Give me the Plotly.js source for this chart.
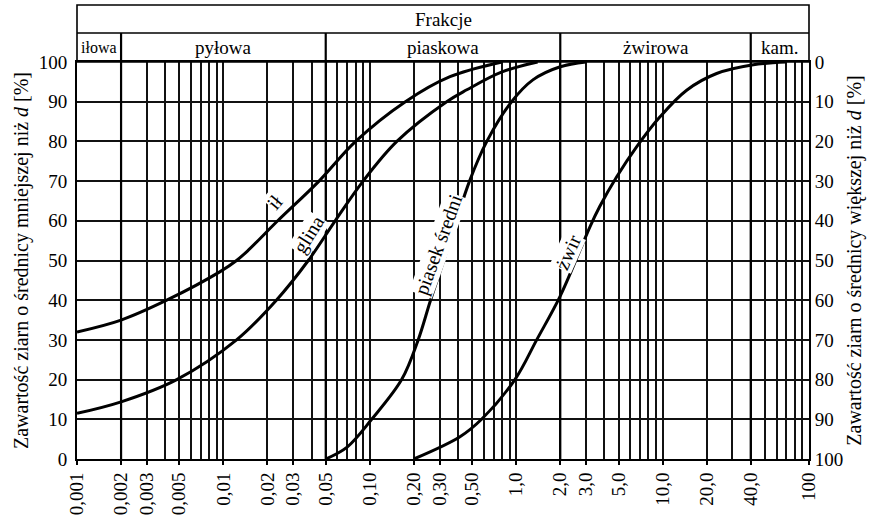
<!DOCTYPE html>
<html><head><meta charset="utf-8">
<script src="https://cdn.plot.ly/plotly-3.0.1.min.js"></script>
<style>body{margin:0;background:#fff}#chart{width:876px;height:518px}</style>
</head><body><div id="chart"></div>
<script>
// Grain size distribution curves (d in mm, P = % finer)
const ilD = [0.001,0.002,0.0041,0.0095,0.0123,0.0148,0.0235,0.045,0.08,0.175,0.353,0.8];
const ilP = [32,35,40,47.2,50,52.6,60,70,80,90,96.3,100];
const glinaD = [0.001,0.002,0.0048,0.0123,0.023,0.038,0.058,0.09,0.153,0.335,0.46,0.8,1.4];
const glinaP = [11.5,14.4,20,30,40,50,60,70,80,90,93,97.5,100];
const piasekD = [0.05,0.07,0.103,0.165,0.214,0.26,0.32,0.39,0.48,0.63,0.93,1.3,2.0,3.0];
const piasekP = [0,3,10,20,30,40,50,60,70,80,90,95.5,98.8,100];
const zwirD = [0.2,0.413,0.58,0.98,1.38,1.99,2.73,3.19,3.72,4.86,6.66,9.6,14.6,23.4,41.7,70];
const zwirP = [0,5.6,10,20,30,40.9,52.6,58.5,63.6,71.1,78.7,86.2,92.9,97.1,99.3,100];

const curveNames = ['ił','glina','piasek średni','żwir'];

// axis ticks
const xTickVals = [0.001,0.002,0.003,0.005,0.01,0.02,0.03,0.05,0.1,0.2,0.3,0.5,1,2,3,5,10,20,40,100];
const xTickText = ['0,001','0,002','0,003','0,005','0,01','0,02','0,03','0,05','0,10','0,20','0,30','0,50','1,0','2,0','3,0','5,0','10,0','20,0','40,0','100'];
const gridMult = [1,2,3,4,5,6,7,8,9];
const gridDecades = [0.001,0.01,0.1,1,10];
const yTickVals = [0,10,20,30,40,50,60,70,80,90,100];

// fractions header
const fractionBounds = [0.001,0.002,0.05,2,40,100];
const fractionNames = ['iłowa','pyłowa','piaskowa','żwirowa','kam.'];
const headerTitle = 'Frakcje';

const gridVals = [];
gridDecades.forEach(dec => gridMult.forEach(m => gridVals.push(+(dec*m).toPrecision(3))));
gridVals.push(100);

const serif = '"Liberation Serif", "DejaVu Serif", "Times New Roman", serif';
const black = '#000';
const lineStyle = {color: black, width: 3, shape: 'spline', smoothing: 1};
const series = [[ilD, ilP],[glinaD, glinaP],[piasekD, piasekP],[zwirD, zwirP]];
const traces = series.map((s, i) => ({
  x: s[0], y: s[1], type: 'scatter', mode: 'lines', name: curveNames[i],
  line: lineStyle, hoverinfo: 'x+y+name'
}));

const H1 = 1.073, H2 = 1.1436;
const shapes = [
  {type:'rect', xref:'paper', yref:'paper', x0:0, x1:1, y0:1, y1:H2, line:{color:black, width:1.6}},
  {type:'line', xref:'paper', yref:'paper', x0:0, x1:1, y0:H1, y1:H1, line:{color:black, width:1.6}}
];
fractionBounds.slice(1, -1).forEach(b => shapes.push(
  {type:'line', xref:'x', yref:'paper', x0:b, x1:b, y0:0, y1:H1, line:{color:black, width:2.2}}
));

const annotations = [
  {text: headerTitle, xref:'paper', yref:'paper', x:0.5, y:(H1+H2)/2, showarrow:false,
   yanchor:'middle', font:{family:serif, size:19, color:black}}
];
fractionNames.forEach((n, i) => annotations.push({
  text: n, xref:'x', yref:'paper',
  x: Math.log10(Math.sqrt(fractionBounds[i]*fractionBounds[i+1])), y:(1+H1)/2,
  showarrow:false, yanchor:'middle',
  font:{family:serif, size: i===0 ? 16 : 19, color:black}
}));
const labelPos = [
  {x:-1.648, y:64.7, a:-50},
  {x:-1.415, y:56.5, a:-58},
  {x:-0.534, y:53.9, a:-70},
  {x:0.354, y:52.1, a:-66}
];
curveNames.forEach((n, i) => annotations.push({
  text: n, xref:'x', yref:'y', x: labelPos[i].x, y: labelPos[i].y,
  textangle: labelPos[i].a, showarrow:false, bgcolor:'#fff', borderpad:0,
  font:{family:serif, size:20, color:black}
}));

const tickFont = {family:serif, size:19, color:black};
const layout = {
  width: 876, height: 518,
  margin: {l:77, r:67, t:62, b:59},
  paper_bgcolor:'#fff', plot_bgcolor:'#fff',
  showlegend:false,
  font:{family:serif, color:black},
  xaxis: {
    type:'log', range:[-3, 2], tickmode:'array', tickvals:xTickVals, ticktext:xTickText,
    tickangle:-90, ticks:'outside', ticklen:4, tickcolor:black, tickwidth:2,
    showgrid:false, zeroline:false, showline:true, mirror:true, linecolor:black, linewidth:2,
    tickfont: tickFont,
    minor: {tickmode:'array', tickvals:gridVals, showgrid:true, gridcolor:'#111', gridwidth:2, ticks:''}
  },
  yaxis: {
    range:[0, 100], tickmode:'array', tickvals:yTickVals, ticks:'', showgrid:true,
    gridcolor:'#111', gridwidth:2, zeroline:false, showline:true, linecolor:black, linewidth:2,
    tickfont: tickFont, ticklabelstandoff: 4,
    title:{text:'Zawartość ziarn o średnicy mniejszej niż <i>d</i> [%]', font:{family:serif, size:20, color:black}, standoff:5}
  },
  yaxis2: {
    overlaying:'y', side:'right', anchor:'x', range:[100, 0], tickmode:'array', tickvals:yTickVals,
    ticks:'', showgrid:false, zeroline:false, showline:true, linecolor:black, linewidth:2,
    tickfont: tickFont,
    title:{text:'Zawartość ziarn o średnicy większej niż <i>d</i> [%]', font:{family:serif, size:20, color:black}, standoff:5}
  },
  shapes: shapes,
  annotations: annotations
};
traces.push({x:[0.001], y:[0], yaxis:'y2', type:'scatter', mode:'markers', marker:{opacity:0}, hoverinfo:'skip', showlegend:false});
Plotly.newPlot('chart', traces, layout, {displayModeBar:false, staticPlot:true});
</script>
</body></html>
